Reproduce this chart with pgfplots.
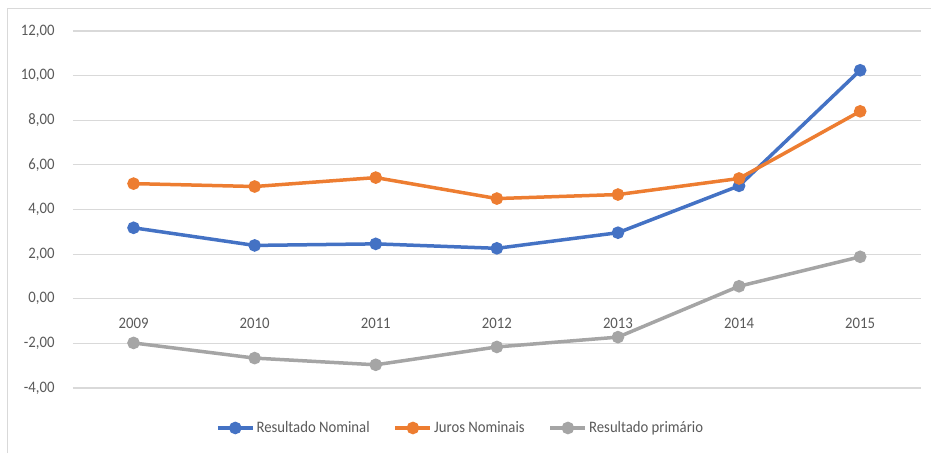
\documentclass[border=0pt]{standalone}
\usepackage{pgfplots}
\pgfplotsset{compat=1.18}
\usepackage{fontspec}
\setmainfont[FakeStretch=0.92]{Carlito}

\definecolor{nominal}{HTML}{4472C4}
\definecolor{juros}{HTML}{ED7D31}
\definecolor{primario}{HTML}{A5A5A5}
\definecolor{gridc}{HTML}{D9D9D9}
\definecolor{txt}{HTML}{595959}

\begin{document}
\fontsize{16}{19}\selectfont
\begin{tikzpicture}
  \useasboundingbox (0pt,0pt) rectangle (931pt,453pt);
  \draw[gridc, line width=1pt] (7pt,0pt) -- (7pt,444.5pt) -- (931pt,444.5pt);
  \begin{axis}[
      at={(73pt,65pt)}, anchor=south west,
      width=847.7pt, height=357pt, scale only axis,
      xmin=-0.5, xmax=6.5,
      ymin=-4, ymax=12,
      axis x line=middle, axis y line=left,
      axis line style={draw=none},
      major tick length=0pt,
      xtick={0,...,6},
      xticklabels={2009,2010,2011,2012,2013,2014,2015},
      ytick={-4,-2,...,12},
      ymajorgrids,
      grid style={gridc, line width=1.2pt},
      tick label style={txt},
      xticklabel style={anchor=north, yshift=-14pt},
      yticklabel style={anchor=east, xshift=-13pt},
      /pgf/number format/.cd, fixed, fixed zerofill, precision=2, use comma, assume math mode=true,
      /pgfplots/.cd,
      every axis plot/.append style={line width=3.5pt, mark=*, mark size=4.5pt},
      legend image code/.code={\draw[mark repeat=2, mark phase=2, line width=3.5pt]
          plot coordinates {(0pt,0pt) (17.5pt,0pt) (35pt,0pt)};},
      legend columns=3,
      legend cell align=left,
      legend style={at={(0.165,-0.112)}, anchor=west, draw=none, fill=none,
          text=txt, nodes={inner xsep=2pt},
          /tikz/every even column/.append style={column sep=22pt}},
    ]
    \addplot[nominal, mark options={fill=nominal}] coordinates {
      (0,3.18) (1,2.39) (2,2.46) (3,2.26) (4,2.96) (5,5.06) (6,10.24)};
    \addlegendentry{Resultado Nominal}
    \addplot[juros, mark options={fill=juros}] coordinates {
      (0,5.16) (1,5.03) (2,5.43) (3,4.49) (4,4.67) (5,5.39) (6,8.40)};
    \addlegendentry{Juros Nominais}
    \addplot[primario, mark options={fill=primario}] coordinates {
      (0,-1.98) (1,-2.66) (2,-2.96) (3,-2.16) (4,-1.72) (5,0.56) (6,1.88)};
    \addlegendentry{Resultado primário}
  \end{axis}
\end{tikzpicture}
\end{document}
